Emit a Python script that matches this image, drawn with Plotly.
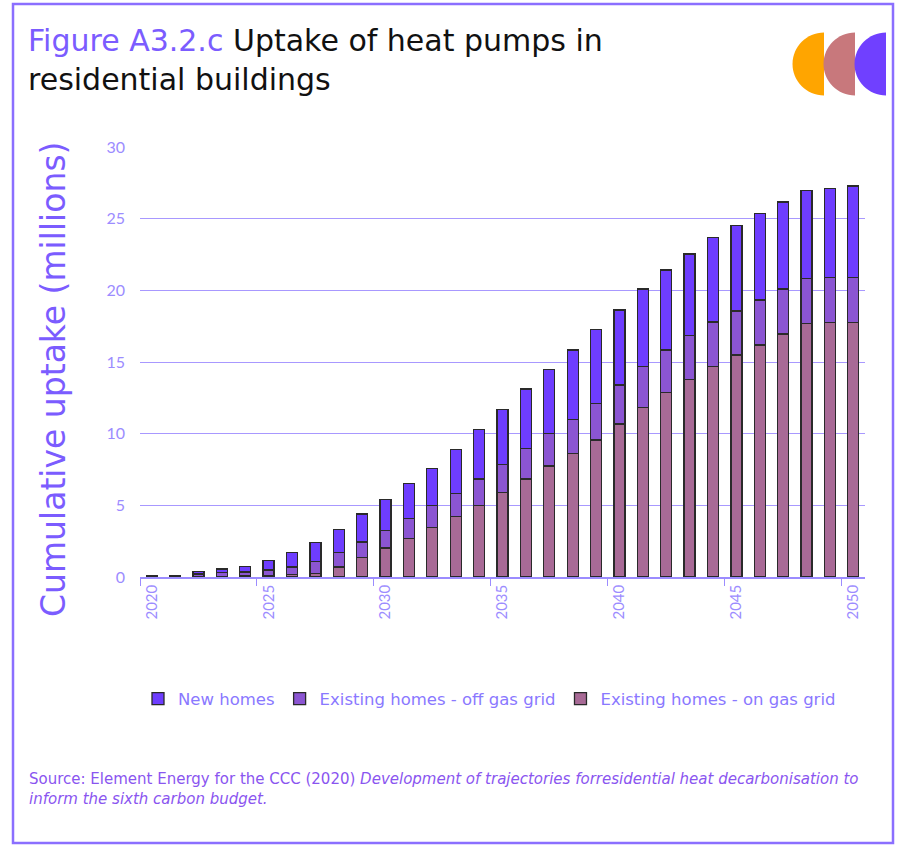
import plotly.graph_objects as go

years = list(range(2020, 2051))
on_gas = [0, 0, 0.02, 0.05, 0.08, 0.10, 0.19, 0.26, 0.70, 1.35, 2.03, 2.70, 3.47, 4.21, 4.98, 5.91,
          6.84, 7.75, 8.63, 9.56, 10.68, 11.84, 12.89, 13.79, 14.68, 15.49, 16.19, 16.96, 17.70, 17.77, 17.77]
off_gas = [0.03, 0.04, 0.18, 0.27, 0.27, 0.38, 0.51, 0.82, 1.00, 1.10, 1.20, 1.40, 1.51, 1.63, 1.86, 1.95,
           2.14, 2.25, 2.37, 2.54, 2.72, 2.84, 2.95, 3.07, 3.12, 3.07, 3.14, 3.14, 3.14, 3.14, 3.14]
new_homes = [0.07, 0.08, 0.18, 0.23, 0.39, 0.67, 1.00, 1.34, 1.63, 1.95, 2.20, 2.44, 2.60, 3.07, 3.46, 3.84,
             4.14, 4.49, 4.84, 5.18, 5.23, 5.42, 5.58, 5.68, 5.88, 5.96, 6.02, 6.07, 6.12, 6.21, 6.37]
series_names = ["Existing homes - on gas grid", "Existing homes - off gas grid", "New homes"]
series_colors = ["#A86A96", "#8B55D2", "#6E3DFF"]
tick_years = [2020, 2025, 2030, 2035, 2040, 2045, 2050]

FONT = "DejaVu Sans"
TICKFONT = "Lato"
PURPLE = "#7B5CFF"
LIGHT = "#9C8CFF"

# pixel -> paper helpers (plot area: x 140..865, y 147..577)
def px(p):
    return (p - 140) / 725.0

def py(p):
    return (577 - p) / 430.0

fig = go.Figure()
for name, vals, col in zip(series_names, [on_gas, off_gas, new_homes], series_colors):
    fig.add_trace(go.Bar(
        x=years, y=vals, name=name,
        marker=dict(color=col, line=dict(color="#2a2a2a", width=1.3)),
    ))

shapes = []
# outer border
shapes.append(dict(type="rect", xref="paper", yref="paper",
                   x0=px(13), x1=px(893), y0=py(843), y1=py(4),
                   line=dict(color="#8B6FFF", width=2.5), fillcolor="rgba(0,0,0,0)", layer="below"))

# logo: three left half-discs
def half_disc(xr, yc, r, color):
    k = 0.5523
    x0, x1 = px(xr), px(xr - r)
    yt, yb, ym = py(yc - r), py(yc + r), py(yc)
    xk = px(xr - k * r)
    ykt = py(yc - k * r)
    ykb = py(yc + k * r)
    path = (f"M {x0},{yt} C {xk},{yt} {x1},{ykt} {x1},{ym} "
            f"C {x1},{ykb} {xk},{yb} {x0},{yb} Z")
    return dict(type="path", xref="paper", yref="paper", path=path,
                fillcolor=color, line=dict(width=0))

shapes.append(half_disc(824, 64, 31.5, "#FFA500"))
shapes.append(half_disc(855, 64, 31.5, "#C8787C"))
shapes.append(half_disc(886, 64, 31.5, "#7040FF"))

annotations = [
    dict(xref="paper", yref="paper", x=px(26), y=py(60), xanchor="left", yanchor="middle",
         align="left", showarrow=False,
         text=(f"<span style='color:{PURPLE}'>Figure A3.2.c</span> Uptake of heat pumps in"
               "<br>residential buildings"),
         font=dict(family=FONT, size=30, color="#111111")),
    dict(xref="paper", yref="paper", x=px(53), y=py(380), xanchor="center", yanchor="middle",
         textangle=-90, showarrow=False, text="Cumulative uptake (millions)",
         font=dict(family=FONT, size=33, color=PURPLE)),
    dict(xref="paper", yref="paper", x=px(27), y=py(789), xanchor="left", yanchor="middle",
         align="left", showarrow=False,
         text=("Source: Element Energy for the CCC (2020) <i>Development of trajectories forresidential heat "
               "decarbonisation to</i><br><i>inform the sixth carbon budget.</i>"),
         font=dict(family=FONT, size=15, color="#8A55F0")),
]

fig.update_layout(
    width=905, height=846,
    margin=dict(l=140, r=40, t=147, b=269),
    paper_bgcolor="white", plot_bgcolor="white",
    barmode="stack", bargap=0.53,
    font=dict(family=FONT, color=LIGHT),
    showlegend=True,
    legend=dict(orientation="h", traceorder="reversed", x=px(138), y=py(699),
                xanchor="left", yanchor="middle",
                font=dict(family=FONT, size=16.5, color="#8A78FF"),
                itemwidth=30),
    shapes=shapes,
    annotations=annotations,
    xaxis=dict(range=[2019.5, 2050.5], tickvals=tick_years, ticktext=[str(y) for y in tick_years],
               tickangle=-90, tickfont=dict(family=TICKFONT, size=15, color=LIGHT),
               ticks="", showgrid=False, showline=True, linecolor=LIGHT, linewidth=1.5,
               minor=dict(tickvals=[y - 0.5 for y in tick_years], ticks="outside", ticklen=7,
                          tickcolor=LIGHT, tickwidth=1, showgrid=False),
               zeroline=False),
    yaxis=dict(range=[0, 30], tickvals=[0, 5, 10, 15, 20, 25, 30], showgrid=True,
               gridcolor="#A898FF", gridwidth=1, zeroline=False, showline=False,
               tickfont=dict(family=TICKFONT, size=16, color=LIGHT), ticks="",
               ticklabelstandoff=14),
)

fig.write_html("out.html")
